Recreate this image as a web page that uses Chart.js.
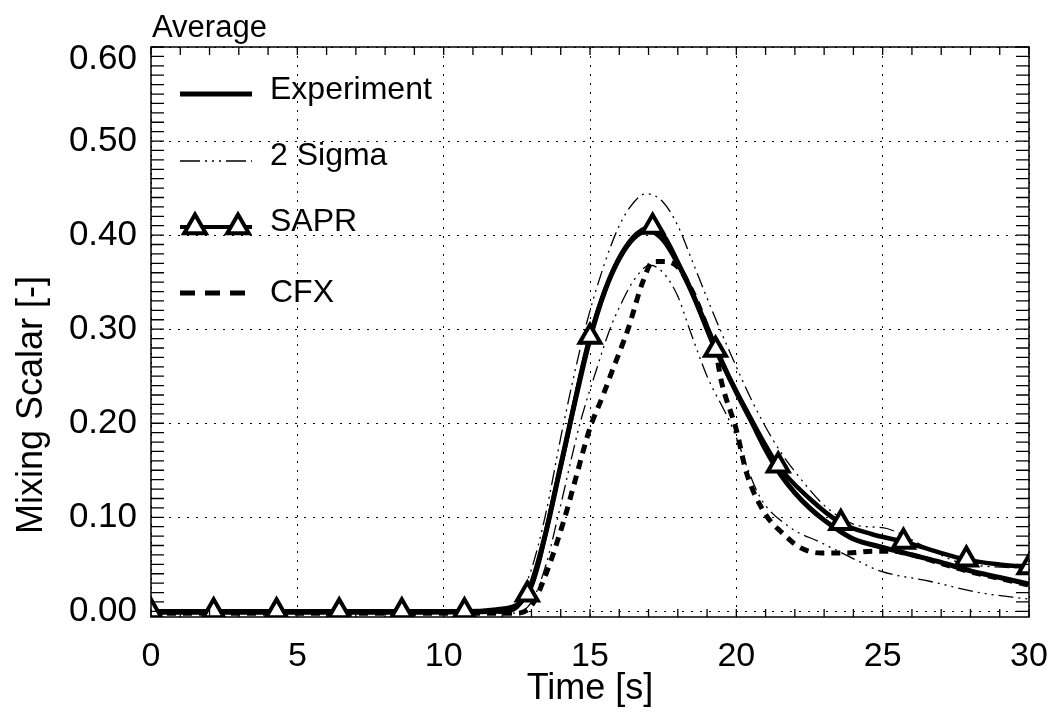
<!DOCTYPE html>
<html>
<head>
<meta charset="utf-8">
<script src="https://cdn.jsdelivr.net/npm/chart.js@4/dist/chart.umd.min.js"></script>
<style>
  html, body { margin: 0; padding: 0; background: #fff; }
  #wrap { width: 1055px; height: 713px; }
</style>
</head>
<body>
<div id="wrap"><canvas id="mixChart" width="1055" height="713"></canvas></div>
<script>
// Chart data
const xTicks = [0, 5, 10, 15, 20, 25, 30];
const yTicks = [0.0, 0.1, 0.2, 0.3, 0.4, 0.5, 0.6];

const expTime  = [0, 4, 8, 12.0, 12.5, 13.0, 13.5, 14.0, 14.5, 15.0, 15.5, 16.0, 16.5, 17.0, 17.5, 18.0, 18.5, 19.0, 19.5, 20.0, 20.5, 21.0, 21.5, 22.0, 22.5, 23.0, 23.5, 24.0, 25.0, 26.0, 27.0, 28.0, 29.0, 30.0];
const expValue = [-0.001, -0.001, -0.001, 0.0, 0.005, 0.03, 0.085, 0.155, 0.225, 0.29, 0.34, 0.375, 0.397, 0.405, 0.395, 0.37, 0.338, 0.302, 0.266, 0.233, 0.203, 0.172, 0.146, 0.126, 0.110, 0.097, 0.086, 0.077, 0.068, 0.060, 0.052, 0.043, 0.036, 0.029];

const sigHiTime  = [0, 6, 12.0, 12.5, 13.0, 13.46, 14.1, 14.83, 15.5, 16.0, 16.5, 16.93, 17.5, 18.0, 18.5, 19.0, 19.44, 20.0, 20.5, 21.0, 21.5, 22.3, 23.1, 24.2, 25.0, 25.5, 26.3, 27.6, 28.5, 30.0];
const sigHiValue = [0.0, 0.0, 0.0, 0.01, 0.045, 0.1, 0.2, 0.3, 0.37, 0.41, 0.435, 0.444, 0.435, 0.41, 0.372, 0.333, 0.3, 0.26, 0.226, 0.196, 0.17, 0.137, 0.11, 0.091, 0.089, 0.084, 0.071, 0.052, 0.048, 0.046];

const sigLoTime  = [0, 6, 12.3, 13.0, 13.5, 13.9, 14.66, 15.2, 15.68, 16.0, 16.5, 17.05, 17.5, 18.0, 18.4, 19.0, 19.8, 20.8, 21.8, 22.9, 24.2, 24.9, 26.6, 28.3, 30.0];
const sigLoValue = [-0.002, -0.002, -0.002, 0.01, 0.05, 0.1, 0.2, 0.255, 0.3, 0.323, 0.352, 0.368, 0.36, 0.335, 0.3, 0.25, 0.2, 0.122, 0.09, 0.073, 0.053, 0.043, 0.032, 0.02, 0.013];

// SAPR output: every other point carries a triangle marker
const saprTime  = [0, 1.07, 2.14, 3.21, 4.29, 5.36, 6.43, 7.5, 8.57, 9.64, 10.71, 11.79, 12.86, 13.93, 15.0, 16.07, 17.14, 18.21, 19.29, 20.36, 21.43, 22.5, 23.57, 24.64, 25.71, 26.79, 27.86, 28.93, 30.0];
const saprValue = [0.0, 0.0, 0.0, 0.0, 0.0, 0.0, 0.0, 0.0, 0.0, 0.0, 0.0, 0.002, 0.018, 0.145, 0.292, 0.38, 0.409, 0.358, 0.278, 0.213, 0.155, 0.12, 0.094, 0.082, 0.074, 0.064, 0.055, 0.050, 0.047];

const cfxTime  = [0, 6, 12.5, 13.0, 13.5, 14.14, 14.5, 15.0, 15.45, 15.75, 16.0, 16.3, 16.8, 17.16, 17.6, 18.0, 18.5, 19.0, 19.3, 19.5, 20.0, 20.35, 21.0, 21.55, 22.17, 22.9, 23.8, 24.7, 25.3, 26.0, 27.0, 28.0, 29.0, 30.0];
const cfxValue = [-0.002, -0.002, -0.002, 0.006, 0.04, 0.1, 0.14, 0.195, 0.23, 0.255, 0.275, 0.3, 0.35, 0.372, 0.372, 0.366, 0.34, 0.302, 0.275, 0.243, 0.193, 0.147, 0.103, 0.084, 0.068, 0.062, 0.062, 0.064, 0.064, 0.060, 0.051, 0.042, 0.035, 0.028];

const legendLabels = ["Experiment", "2 Sigma", "SAPR", "CFX"];

const FONT = "'Liberation Sans', Arial, Helvetica, sans-serif";
const SIGMA_DASH = [15, 5, 2, 5, 2, 5, 2, 5];

function toPoints(xs, ys) {
  return xs.map((x, i) => ({ x: x, y: ys[i] }));
}

// Frame, inward minor ticks, y labels, titles and legend
const framePlugin = {
  id: "framePlugin",
  afterDatasetsDraw(chart) {
    const ctx = chart.ctx;
    const a = chart.chartArea;
    const xs = chart.scales.x;
    const ys = chart.scales.y;
    ctx.save();
    ctx.strokeStyle = "#000";
    ctx.lineWidth = 1.5;
    ctx.setLineDash([]);
    ctx.strokeRect(a.left, a.top, a.right - a.left, a.bottom - a.top);

    ctx.lineWidth = 1.3;
    ctx.beginPath();
    for (let v = 0; v <= 30; v += 1) {
      const px = xs.getPixelForValue(v);
      ctx.moveTo(px, a.bottom); ctx.lineTo(px, a.bottom - 8);
      ctx.moveTo(px, a.top); ctx.lineTo(px, a.top + 8);
    }
    for (let k = 0; k <= 60; k++) {
      const py = ys.getPixelForValue(k / 100);
      ctx.moveTo(a.left, py); ctx.lineTo(a.left + 13, py);
      ctx.moveTo(a.right, py); ctx.lineTo(a.right - 13, py);
    }
    ctx.stroke();

    // y tick labels (top one kept inside the frame, like the original)
    ctx.fillStyle = "#000";
    ctx.font = "35px " + FONT;
    ctx.textAlign = "right";
    ctx.textBaseline = "middle";
    yTicks.forEach((v) => {
      const py = Math.max(ys.getPixelForValue(v), a.top + 12);
      ctx.fillText(v.toFixed(2), a.left - 14, py);
    });

    // title
    ctx.font = "31px " + FONT;
    ctx.textBaseline = "alphabetic";
    ctx.textAlign = "left";
    ctx.fillText("Average", a.left + 1, 37);

    // y axis title
    ctx.save();
    ctx.translate(32, 405);
    ctx.rotate(-Math.PI / 2);
    ctx.font = "36px " + FONT;
    ctx.textAlign = "center";
    ctx.textBaseline = "middle";
    ctx.fillText("Mixing Scalar [-]", 0, 0);
    ctx.restore();

    // legend
    const rows = [99, 165, 231, 302];
    const lineY = [94, 161, 227, 293];
    ctx.font = "32px " + FONT;
    legendLabels.forEach((t, i) => ctx.fillText(t, 270, rows[i]));

    ctx.lineCap = "butt";
    ctx.lineWidth = 5;
    ctx.beginPath(); ctx.moveTo(180, lineY[0]); ctx.lineTo(252, lineY[0]); ctx.stroke();

    ctx.lineWidth = 1.3;
    ctx.setLineDash([20, 5, 2, 5, 2, 5, 2, 5]);
    ctx.beginPath(); ctx.moveTo(180, lineY[1]); ctx.lineTo(252, lineY[1]); ctx.stroke();
    ctx.setLineDash([]);

    ctx.lineWidth = 4;
    ctx.beginPath(); ctx.moveTo(180, lineY[2]); ctx.lineTo(252, lineY[2]); ctx.stroke();
    [195, 238].forEach((cx) => {
      const r = 12.5;
      ctx.beginPath();
      for (let j = 0; j < 3; j++) {
        const ang = j * 2 * Math.PI / 3;
        const px = cx + Math.sin(ang) * r;
        const py = lineY[2] - Math.cos(ang) * r;
        if (j === 0) ctx.moveTo(px, py); else ctx.lineTo(px, py);
      }
      ctx.closePath();
      ctx.fillStyle = "#fff";
      ctx.fill();
      ctx.lineWidth = 4;
      ctx.stroke();
    });

    ctx.lineWidth = 5;
    ctx.setLineDash([15, 10]);
    ctx.beginPath(); ctx.moveTo(180, lineY[3]); ctx.lineTo(246, lineY[3]); ctx.stroke();
    ctx.restore();
  },
};

function lineSet(label, pts, width, dash) {
  return {
    label: label,
    data: pts,
    borderColor: "#000",
    borderWidth: width,
    borderDash: dash,
    pointRadius: 0,
    fill: false,
    cubicInterpolationMode: "monotone",
  };
}

const saprRadius = saprTime.map((t, i) => (i % 2 === 0 ? 12 : 0));

const datasets = [
  Object.assign(lineSet("SAPR", toPoints(saprTime, saprValue), 4.5, []), {
    pointRadius: saprRadius,
    pointStyle: "triangle",
    pointBorderWidth: 4,
    pointBorderColor: "#000",
    pointBackgroundColor: "#fff",
  }),
  lineSet("Experiment", toPoints(expTime, expValue), 5, []),
  lineSet("CFX", toPoints(cfxTime, cfxValue), 5, [9, 7]),
  lineSet("2 Sigma", toPoints(sigHiTime, sigHiValue), 1.3, SIGMA_DASH),
  lineSet("2 Sigma low", toPoints(sigLoTime, sigLoValue), 1.3, SIGMA_DASH),
];

const ctx = document.getElementById("mixChart").getContext("2d");
new Chart(ctx, {
  type: "line",
  data: { datasets: datasets },
  plugins: [framePlugin],
  options: {
    responsive: false,
    animation: false,
    layout: { padding: { top: 47, right: 26, left: 0, bottom: 0 } },
    plugins: { legend: { display: false }, tooltip: { enabled: false }, title: { display: false } },
    scales: {
      x: {
        type: "linear",
        min: 0,
        max: 30,
        afterBuildTicks: (s) => { s.ticks = xTicks.map((v) => ({ value: v })); },
        afterFit: (s) => { s.height = 96; s.paddingLeft = 0; s.paddingRight = 0; },
        grid: { color: "#000", lineWidth: 1, drawTicks: false },
        border: { display: false, dash: [2, 7] },
        ticks: { color: "#000", font: { family: FONT, size: 34 }, padding: 19, maxRotation: 0 },
        title: { display: true, text: "Time [s]", color: "#000", font: { family: FONT, size: 36 }, padding: { top: 0, bottom: 2 } },
      },
      y: {
        type: "linear",
        min: -0.006,
        max: 0.6,
        afterBuildTicks: (s) => { s.ticks = yTicks.map((v) => ({ value: v })); },
        afterFit: (s) => { s.width = 151; s.paddingTop = 0; s.paddingBottom = 0; },
        grid: { color: "#000", lineWidth: 1, drawTicks: false },
        border: { display: false, dash: [2, 7] },
        ticks: { display: false },
        title: { display: false },
      },
    },
  },
});
</script>
</body>
</html>
